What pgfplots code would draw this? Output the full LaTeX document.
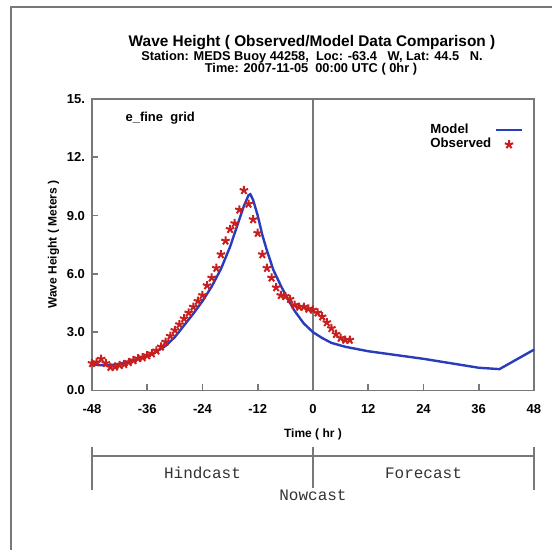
\documentclass[border=0pt]{standalone}
\usepackage{pgfplots}
\pgfplotsset{compat=1.18}
\usepackage{fontspec}
\setmainfont{Liberation Sans}
\setmonofont{Liberation Mono}
\definecolor{framegray}{RGB}{120,120,120}
\definecolor{modelblue}{RGB}{40,60,190}
\definecolor{obsred}{RGB}{200,30,30}
\begin{document}
\begin{tikzpicture}[x=0.5pt,y=0.5pt]
\path[use as bounding box] (0,0) rectangle (552,550);
\coordinate (axsw) at (92,159.5);
% outer frame (cut at right and bottom)
\draw[framegray, line width=1pt] (11,0) -- (11,543) -- (552,543);
% titles
\node[font=\bfseries\fontsize{7.7}{8}\selectfont] at (312,507) {Wave Height ( Observed/Model Data Comparison )};
\node[font=\bfseries\fontsize{6.4}{7}\selectfont] at (312,493) {Station: MEDS Buoy 44258,\ \ Loc: -63.4\ \ \ W, Lat: 44.5\ \ \ N.};
\node[font=\bfseries\fontsize{6.4}{7}\selectfont] at (311,481) {Time: 2007-11-05\ \ 00:00 UTC ( 0hr )};
\begin{axis}[
  at={(axsw)}, anchor=south west,
  scale only axis, width=221pt, height=145.75pt,
  xmin=-48, xmax=48, ymin=0, ymax=15,
  xtick={-48,-36,...,48}, ytick={0,3,...,15},
  yticklabels={0.0,3.0,6.0,9.0,12.,15.},
  tick pos=left, tick align=inside,
  major tick length=3pt,
  axis line style={framegray, line width=0.9pt},
  every tick/.style={framegray, line width=0.8pt},
  /pgf/number format/assume math mode=true,
  ticklabel style={font=\bfseries\fontsize{6.5}{7}\selectfont},
  xticklabel style={yshift=-3.5pt},
  xlabel={Time ( hr )}, ylabel={Wave Height ( Meters )},
  label style={font=\bfseries\fontsize{6}{7}\selectfont},
  xlabel style={yshift=-0.5pt},
  ylabel style={yshift=-3pt},
  legend plot pos=right,
  legend image code/.code={\draw[mark repeat=2,mark phase=2,#1] plot coordinates {(0cm,0cm) (0.22cm,0cm) (0.44cm,0cm)};},
  legend style={at={(rel axis cs:0.98,0.937)}, anchor=north east, draw=none, fill=none,
    font=\bfseries\fontsize{6.6}{7}\selectfont, row sep=-3pt, inner sep=1pt},
  legend cell align=left,
  clip=false,
]
\addplot[framegray, line width=0.9pt, forget plot] coordinates {(0,0) (0,15)};
\addplot[modelblue, line width=1.2pt] coordinates {
(-48,1.35) (-46,1.3) (-44,1.3) (-42,1.38) (-40,1.5) (-38,1.62) (-36,1.78) (-34,2.0)
(-32,2.3) (-30,2.75) (-28,3.35) (-26,3.95) (-24,4.6) (-22,5.35) (-20,6.25) (-18,7.4)
(-16,8.8) (-15,9.5) (-14,10.05) (-13.6,10.1) (-13,9.8) (-12,9.0) (-11,8.0) (-10,7.2)
(-8.6,6.2) (-7,5.4) (-5.7,4.8) (-4,4.1) (-2,3.45) (0,3.0) (2,2.7) (4,2.45) (7,2.25)
(12,2.02) (24,1.63) (36,1.17) (40.5,1.1) (48,2.1)
};
\addlegendentry{Model}
\addplot[obsred, only marks, mark=star, mark size=2.2pt, line width=1pt] coordinates {
(-48,1.40) (-47,1.45) (-46,1.62) (-45,1.40) (-44,1.20) (-43,1.22) (-42,1.30) (-41,1.35)
(-40,1.45) (-39,1.55) (-38,1.65) (-37,1.70) (-36,1.80) (-35,1.90) (-34,2.05) (-33,2.25)
(-32,2.50) (-31,2.80) (-30,3.10) (-29,3.40) (-28,3.70) (-27,4.00) (-26,4.30) (-25,4.60)
(-24,4.90) (-23,5.40) (-22,5.80) (-21,6.30) (-20,7.00) (-19,7.70) (-18,8.30) (-17,8.60)
(-16,9.30) (-15,10.30) (-14,9.60) (-13,8.80) (-12,8.10) (-11,7.00) (-10,6.30) (-9,5.80)
(-8,5.30) (-7,4.90) (-6,4.85) (-5,4.70) (-4,4.40) (-3,4.30) (-2,4.30) (-1,4.20)
(0,4.15) (1,4.00) (2,3.80) (3,3.50) (4,3.20) (5,2.90) (6,2.70) (7,2.60) (8,2.60)
};
\addlegendentry{Observed}
\node[font=\bfseries\fontsize{6.5}{7}\selectfont, anchor=west] at (rel axis cs:0.06,0.935) {e\_fine\ \ grid};
\end{axis}
% hindcast / nowcast / forecast bracket
\draw[framegray, line width=0.9pt] (92,94) -- (534,94);
\draw[framegray, line width=0.9pt] (92,103) -- (92,60);
\draw[framegray, line width=0.9pt] (534,103) -- (534,60);
\draw[framegray, line width=0.9pt] (313,103) -- (313,62);
\node[font=\ttfamily\fontsize{8}{9}\selectfont, text=black!80] at (202.5,77) {Hindcast};
\node[font=\ttfamily\fontsize{8}{9}\selectfont, text=black!80] at (423.5,77) {Forecast};
\node[font=\ttfamily\fontsize{8}{9}\selectfont, text=black!80] at (313,55) {Nowcast};
\end{tikzpicture}
\end{document}
